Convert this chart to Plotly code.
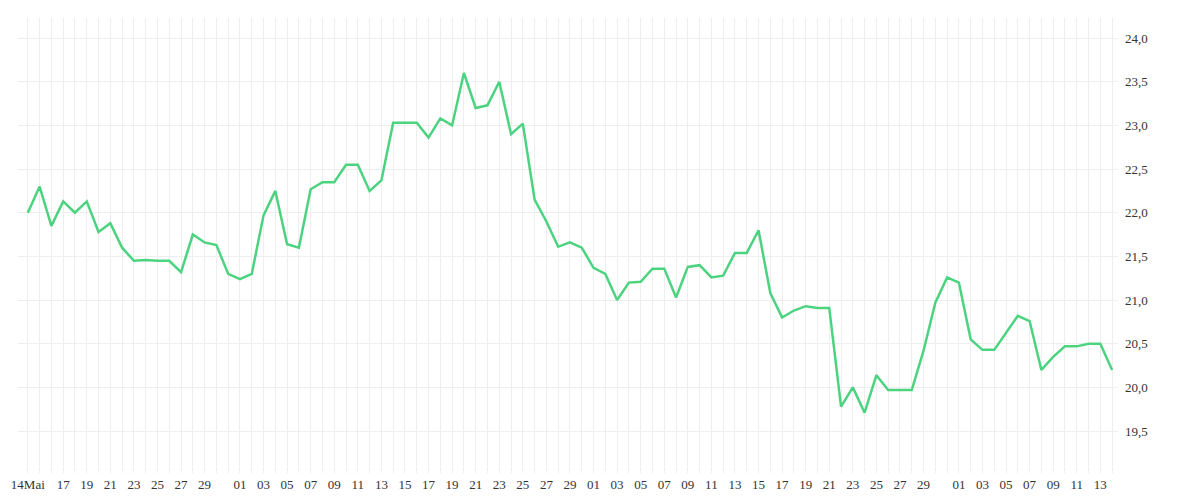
import pandas as pd
import plotly.graph_objects as go

dates = pd.date_range("2024-05-14", "2024-08-14", freq="D")
values = [
    22.0, 22.3, 21.85, 22.13, 22.0, 22.13, 21.78, 21.88, 21.6, 21.45, 21.46, 21.45, 21.45,
    21.32, 21.75, 21.66, 21.63, 21.3,
    21.24, 21.3, 21.97, 22.25, 21.64, 21.6, 22.27, 22.35, 22.35, 22.55, 22.55, 22.25,
    22.37, 23.03, 23.03, 23.03, 22.86, 23.08, 23.0, 23.6, 23.2, 23.23, 23.5, 22.9,
    23.02, 22.15, 21.9, 21.61, 21.66, 21.6,
    21.37, 21.3, 21.0, 21.2, 21.21, 21.36, 21.36, 21.03, 21.38, 21.4, 21.26, 21.28,
    21.54, 21.54, 21.8, 21.08, 20.8, 20.88, 20.93, 20.91, 20.91, 19.78, 20.0, 19.71,
    20.14, 19.97, 19.97, 19.97, 20.42, 20.97, 21.26,
    21.2, 20.55, 20.43, 20.43, 20.62, 20.82, 20.76, 20.2, 20.35, 20.47, 20.47, 20.5,
    20.5, 20.2,
]

tick_dates = [d for d in dates if d.day % 2 == 1 and d.day != 31]
tick_dates = [pd.Timestamp("2024-05-14")] + [d for d in tick_dates if d > pd.Timestamp("2024-05-15")]
tick_text = ["14Mai"] + [d.strftime("%d") for d in tick_dates[1:]]

fig = go.Figure(go.Scatter(
    x=dates, y=values, mode="lines",
    line=dict(color="#4cd37f", width=2.5),
))

fig.update_layout(
    width=1200, height=500,
    margin=dict(l=10, r=90, t=10, b=42),
    paper_bgcolor="white", plot_bgcolor="white",
    showlegend=False,
    font=dict(family="Liberation Serif", size=13, color="#333"),
    xaxis=dict(
        range=["2024-05-13 04:00", "2024-08-14 12:00"],
        tickvals=tick_dates, ticktext=tick_text, tickangle=0,
        showgrid=True, gridcolor="#eeeeee", gridwidth=1,
        minor=dict(dtick=86400000, showgrid=True, gridcolor="#eeeeee",
                   ticks="outside", ticklen=6, tickcolor="#eeeeee"),
        ticks="outside", ticklen=6, tickcolor="#eeeeee",
        zeroline=False, showline=False, automargin=False,
    ),
    yaxis=dict(
        side="right", range=[19.1, 24.23],
        tickvals=[19.5, 20, 20.5, 21, 21.5, 22, 22.5, 23, 23.5, 24],
        ticktext=["19,5", "20,0", "20,5", "21,0", "21,5", "22,0", "22,5", "23,0", "23,5", "24,0"],
        showgrid=True, gridcolor="#eeeeee", zeroline=False,
        ticks="", ticklabelstandoff=6, automargin=False,
    ),
)

fig.write_html("out.html")
